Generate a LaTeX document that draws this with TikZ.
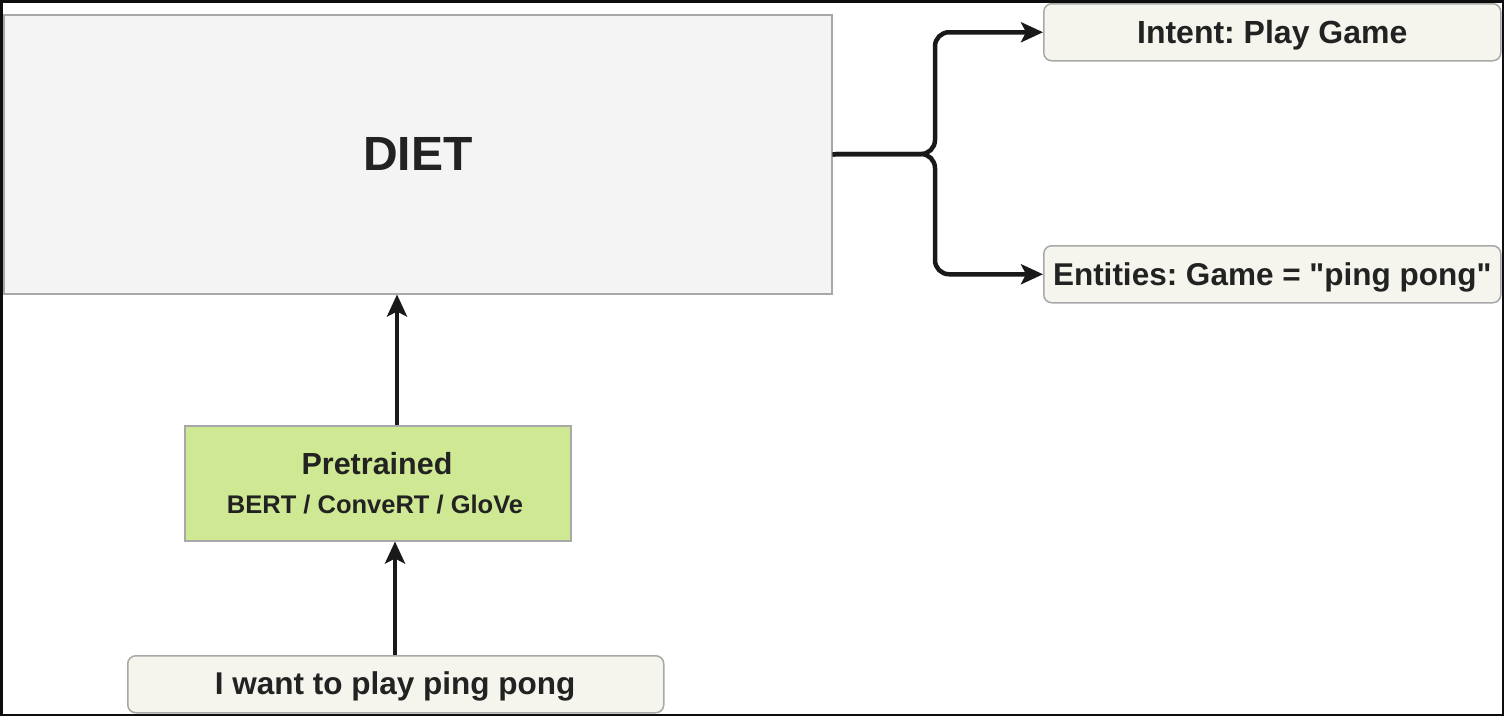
\documentclass[tikz,border=0pt]{standalone}
\usepackage{fontspec}
\setmainfont{Liberation Sans}[Ligatures=TeXOff]
\usetikzlibrary{arrows.meta}
\definecolor{dietfill}{HTML}{F4F4F4}
\definecolor{boxline}{HTML}{A8A8A8}
\definecolor{outfill}{HTML}{F5F5EE}
\definecolor{greenfill}{HTML}{CFE893}
\definecolor{txt}{HTML}{222222}
\frenchspacing
\tikzset{
  box/.style={draw=boxline, line width=1.5pt, anchor=north west, inner sep=0pt, text=txt, font=\bfseries, align=center},
  roundbox/.style={box, fill=outfill, rounded corners=8pt},
  conn/.style={line width=4.5pt, draw=black!90, -{Stealth[length=22pt,width=20pt,inset=5pt]}},
}
\begin{document}
\begin{tikzpicture}[x=1pt,y=-1pt]
\useasboundingbox (0,0) rectangle (1504,716);
\fill[white] (0,0) rectangle (1504,716);

\node[box, fill=dietfill, minimum width=828pt, minimum height=279pt, font=\fontsize{48}{52}\selectfont\bfseries] (diet) at (3,14) {DIET};

\node[roundbox, minimum width=457pt, minimum height=57pt, text depth=1pt, font=\fontsize{32}{36}\selectfont\bfseries] (intent) at (1043,3) {Intent: Play Game};
\node[roundbox, minimum width=457pt, minimum height=57pt, text depth=1pt, font=\fontsize{31.5}{36}\selectfont\bfseries] (ent) at (1043,245) {Entities: Game = "ping pong"};

\node[box, fill=greenfill, minimum width=386pt, minimum height=115pt] (pre) at (184,425) {};
\node[text=txt, font=\fontsize{30.5}{34}\selectfont\bfseries] (pretitle) at (377,464) {Pretrained};
\node[text=txt, font=\fontsize{25.5}{29}\selectfont\bfseries] (presub) at (375,505) {BERT / ConveRT / GloVe};

\node[roundbox, minimum width=536pt, minimum height=57pt] (inp) at (127,655) {};
\node[text=txt, font=\fontsize{31.5}{35}\selectfont\bfseries] (inptext) at (395,686) {I want to play ping pong};

\coordinate (split) at (935,154);
\draw[conn, rounded corners=14pt] (diet.east) -- (split) |- (intent.west);
\draw[conn, rounded corners=14pt] (diet.east) -- (split) |- (ent.west);
\draw[conn] (pre.north -| 397,0) -- (diet.south -| 397,0);
\draw[conn] (inp.north -| 395,0) -- (pre.south -| 395,0);

\draw[line width=2.5pt, black!95] (1.25,1.25) rectangle (1502.75,714.75);
\end{tikzpicture}
\end{document}
